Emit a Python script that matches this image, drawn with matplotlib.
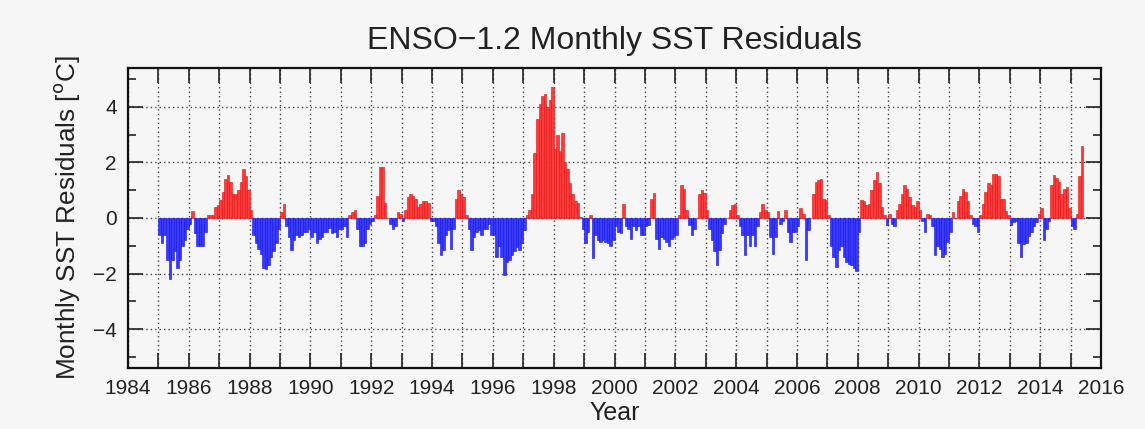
import numpy as np
import matplotlib.pyplot as plt

# Monthly SST residuals (deg C), Jan 1985 - May 2015
ssta_1985_1989 = [-0.6, -0.9, -0.6, -1.5, -2.2, -1.5, -1.2, -1.8, -1.5, -1.0, -0.8, -0.4,
                  -0.2, 0.25, -0.55, -1.0, -1.0, -1.0, -0.5, 0.1, 0.1, 0.1, 0.4, 0.45,
                  0.65, 0.95, 1.4, 1.55, 1.3, 0.85, 0.85, 1.0, 1.3, 1.75, 1.5, 1.0,
                  0.3, -0.6, -0.9, -1.1, -1.3, -1.8, -1.85, -1.7, -1.4, -1.2, -0.9, -0.4,
                  0.2, 0.5, -0.3, -0.7, -1.15, -0.8, -0.6, -0.7, -0.6, -0.5, -0.5, -0.4]
ssta_1990_1994 = [-0.7, -0.5, -0.9, -0.75, -0.7, -0.5, -0.5, -0.35, -0.55, -0.5, -0.7, -0.4,
                  -0.4, -0.3, -0.7, 0.1, 0.2, 0.3, -0.4, -1.0, -1.0, -0.9, -0.4, -0.2,
                  -0.1, 0.1, 0.8, 1.85, 1.85, 0.55, 0.0, -0.2, -0.4, -0.3, 0.2, 0.15,
                  -0.1, 0.3, 0.75, 0.85, 0.8, 0.7, 0.4, 0.5, 0.6, 0.6, 0.55, -0.1,
                  -0.1, -0.3, -0.9, -1.35, -1.15, -0.6, -0.45, -1.1, -0.4, 0.7, 1.0, 0.85]
ssta_1995_1999 = [0.75, 0.1, -0.4, -1.15, -0.7, -0.5, -0.45, -0.6, -0.4, -0.4, -0.2, -0.6,
                  -0.6, -1.4, -1.0, -1.4, -2.05, -1.6, -1.5, -1.35, -1.2, -1.05, -1.15, -0.9,
                  -0.45, 0.1, 0.3, 0.85, 2.35, 3.55, 4.1, 4.4, 4.45, 4.0, 4.25, 4.7,
                  2.5, 3.0, 2.4, 3.05, 2.0, 1.75, 1.25, 0.85, 0.6, 0.55, 0.05, -0.4,
                  -0.9, -0.5, 0.1, -1.45, -0.6, -0.8, -0.85, -0.8, -0.85, -0.9, -1.0, -0.8]
ssta_2000_2004 = [-0.3, -0.5, -0.55, 0.5, -0.3, -0.4, -0.75, -0.3, -0.45, -0.3, -0.6, -0.6,
                  -0.3, -0.25, 0.7, 0.9, -0.75, -1.1, -0.7, -0.75, -0.85, -1.0, -0.75, -0.7,
                  -0.6, 0.1, 1.2, 1.05, 0.3, -0.25, -0.6, -0.4, 0.0, 0.85, 1.0, 0.9,
                  0.3, -0.4, -0.8, -1.2, -1.7, -1.15, -0.55, -0.2, 0.0, 0.3, 0.45, 0.5,
                  0.1, -0.3, -0.6, -1.35, -0.6, -1.0, -0.6, -1.0, -0.3, 0.2, 0.5, 0.3]
ssta_2005_2009 = [0.2, -0.7, -1.3, -0.7, 0.25, -0.2, -0.1, 0.3, -0.5, -0.85, -0.5, -0.5,
                  -0.3, 0.35, 0.15, -1.5, -0.45, 0.0, 0.85, 1.3, 1.35, 1.4, 0.7, 0.65,
                  0.1, -1.0, -1.4, -1.75, -1.15, -1.0, -1.4, -1.6, -1.65, -1.7, -1.8, -1.9,
                  -0.5, 0.65, 0.6, 0.45, 0.5, 1.0, 1.35, 1.65, 1.25, 0.4, 0.1, -0.25,
                  0.15, -0.2, -0.3, 0.3, 0.5, 0.85, 1.2, 1.05, 0.75, 0.45, 0.4, 0.6]
ssta_2010_2015 = [0.3, -0.1, -0.5, 0.15, 0.1, -0.3, -1.35, -1.0, -1.1, -1.4, -1.3, -0.85,
                  -0.5, 0.2, 0.0, 0.6, 0.8, 1.05, 0.95, 0.6, 0.1, -0.2, -0.3, -0.5,
                  0.1, 0.5, 0.95, 1.25, 1.2, 1.6, 1.6, 1.5, 0.7, 0.7, 0.25, 0.1,
                  -0.25, -0.15, -0.1, -0.9, -1.4, -0.95, -0.9, -0.65, -0.5, -0.3, -0.15, 0.15,
                  0.35, -0.8, -0.4, -0.1, 1.2, 1.55, 1.45, 1.3, 0.85, 1.05, 1.1, 0.35,
                  -0.3, -0.4, 0.15, 1.5, 2.6]

start_year = 1985
year_ticks = list(range(1984, 2017, 2))

ssta = np.array(ssta_1985_1989 + ssta_1990_1994 + ssta_1995_1999
                + ssta_2000_2004 + ssta_2005_2009 + ssta_2010_2015)
time = start_year + np.arange(len(ssta)) / 12.0

bg = '#f6f6f6'
plt.rcParams['font.family'] = ['Liberation Sans', 'DejaVu Sans']

fig = plt.figure(figsize=(11.45, 4.29), dpi=100, facecolor=bg)
ax = fig.add_axes([0.1118, 0.1422, 0.8498, 0.6993])
ax.set_facecolor(bg)

pos = ssta >= 0
ax.bar(time[pos], ssta[pos], width=1 / 12, align='edge',
       color='#ff3a3a', edgecolor='#e01010', linewidth=0.4, zorder=2)
ax.bar(time[~pos], ssta[~pos], width=1 / 12, align='edge',
       color='#3a3aff', edgecolor='#1010e0', linewidth=0.4, zorder=2)

ax.set_xlim(1984, 2016)
ax.set_ylim(-5.4, 5.4)

ax.set_xticks(range(1984, 2017))
ax.set_xticklabels([str(y) if y in year_ticks else '' for y in range(1984, 2017)])
ax.set_yticks([-4, -2, 0, 2, 4])
ax.set_yticklabels(['\u22124', '\u22122', '0', '2', '4'])
ax.set_yticks([-5, -3, -1, 1, 3, 5], minor=True)

ax.tick_params(axis='both', which='both', direction='in', top=True, right=True,
               labelsize=15, colors='#222222', width=1.2)
ax.tick_params(axis='x', which='major', length=11, pad=8)
ax.tick_params(axis='y', which='major', length=11, pad=8)
ax.tick_params(axis='y', which='minor', length=6)

ax.grid(True, which='major', linestyle=(0, (1, 2.2)), color='#444444', linewidth=1.0, zorder=0)
ax.set_axisbelow(True)

for s in ax.spines.values():
    s.set_linewidth(1.6)
    s.set_color('#111111')

ax.set_title('ENSO\u22121.2 Monthly SST Residuals', fontsize=23, color='#222222', pad=14)
ax.set_ylabel('Monthly SST Residuals [$^{\\rm o}$C]', fontsize=18.8, color='#222222', labelpad=8)
ax.set_xlabel('Year', fontsize=18, color='#222222', labelpad=2)

fig.savefig('out.png', dpi=100, facecolor=bg)
